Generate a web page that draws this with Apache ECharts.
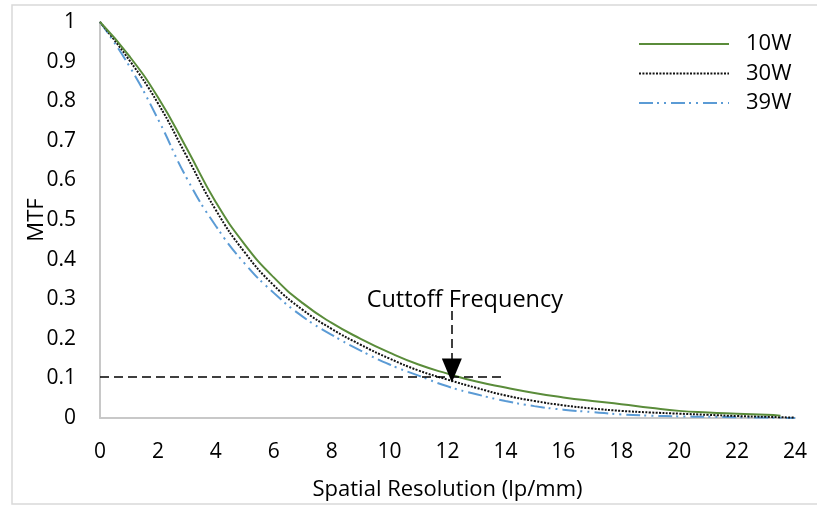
<!DOCTYPE html>
<html>
<head>
<meta charset="utf-8">
<title>MTF vs Spatial Resolution</title>
<script src="https://cdn.jsdelivr.net/npm/echarts@6/dist/echarts.min.js"></script>
<style>
  html, body { margin: 0; padding: 0; background: #fff; }
  #chart { width: 817px; height: 506px; }
</style>
</head>
<body>
<div id="chart"></div>
<script>
// MTF curves, x = spatial resolution (lp/mm)
const seriesNames = ['10W', '30W', '39W'];

const x10W = [0, 1, 2, 3, 4, 5, 6, 7, 8, 9, 10, 11, 12, 13, 14, 15, 16, 17, 18, 19, 20, 21, 22, 23, 23.5];
const y10W = [1.0, 0.915, 0.81, 0.68, 0.545, 0.438, 0.355, 0.29, 0.24, 0.2, 0.165, 0.135, 0.112, 0.092, 0.077, 0.063, 0.052, 0.043, 0.035, 0.026, 0.018, 0.014, 0.011, 0.008, 0.006];

const x30W = [0, 1, 2, 3, 4, 5, 6, 7, 8, 9, 10, 11, 12, 13, 14, 15, 16, 17, 18, 19, 20, 21, 22, 23, 24];
const y30W = [1.0, 0.905, 0.795, 0.66, 0.525, 0.418, 0.335, 0.273, 0.225, 0.185, 0.15, 0.12, 0.097, 0.076, 0.057, 0.043, 0.032, 0.024, 0.018, 0.014, 0.011, 0.008, 0.005, 0.003, 0.001];

const x39W = [0, 1, 2, 3, 4, 5, 6, 7, 8, 9, 10, 11, 12, 13, 14, 15, 16, 17, 18, 19, 20, 21, 22, 23, 24];
const y39W = [1.0, 0.89, 0.755, 0.605, 0.485, 0.39, 0.316, 0.256, 0.21, 0.17, 0.135, 0.107, 0.08, 0.06, 0.043, 0.03, 0.021, 0.015, 0.009, 0.006, 0.004, 0.003, 0.002, 0.001, 0.0];

const xTicks = [0, 2, 4, 6, 8, 10, 12, 14, 16, 18, 20, 22, 24];
const yTicks = [0, 0.1, 0.2, 0.3, 0.4, 0.5, 0.6, 0.7, 0.8, 0.9, 1];

// cutoff marker: dashed threshold line and the arrow pointing at the crossing
const cutoffLevel = 0.105;
const cutoffLineEnd = 14;
const cutoffFreq = 12.15;
const arrowTop = 0.27;
const arrowTip = 0.12;
const cutoffText = 'Cuttoff Frequency';

const FONT = '"Open Sans", "Liberation Sans", Arial, sans-serif';
const pair = (xs, ys) => xs.map((x, i) => [x, ys[i]]);

const chart = echarts.init(document.getElementById('chart'), null, { renderer: 'canvas' });

const option = {
  animation: false,
  backgroundColor: '#fff',
  textStyle: { fontFamily: FONT, color: '#000' },
  grid: { left: 100, right: 22, top: 22, bottom: 88, containLabel: false },
  legend: {
    orient: 'vertical',
    left: 638,
    top: 33,
    padding: 0,
    itemWidth: 90,
    itemHeight: 14,
    itemGap: 7.5,
    data: seriesNames,
    itemStyle: { opacity: 0 },
    textStyle: { fontFamily: FONT, fontSize: 22, color: '#000', padding: [0, 0, 0, 12] }
  },
  xAxis: {
    type: 'value',
    min: 0,
    max: 24,
    interval: 2,
    name: 'Spatial Resolution (lp/mm)',
    nameLocation: 'middle',
    nameGap: 61,
    nameMoveOverlap: false,
    nameTextStyle: { fontFamily: FONT, fontSize: 22, color: '#000' },
    axisLine: { show: true, onZero: false, lineStyle: { color: '#c8c8c8', width: 2 } },
    axisTick: { show: false },
    splitLine: { show: false },
    axisLabel: {
      fontFamily: FONT, fontSize: 21, color: '#000', margin: 24,
      formatter: v => xTicks.includes(v) ? String(v) : ''
    }
  },
  yAxis: {
    type: 'value',
    min: 0,
    max: 1,
    interval: 0.1,
    name: 'MTF',
    nameLocation: 'middle',
    nameGap: 52,
    nameMoveOverlap: false,
    nameTextStyle: { fontFamily: FONT, fontSize: 22, color: '#000' },
    axisLine: { show: true, lineStyle: { color: '#c8c8c8', width: 2 } },
    axisTick: { show: false },
    splitLine: { show: false },
    axisLabel: {
      fontFamily: FONT, fontSize: 21, color: '#000', margin: 24,
      formatter: v => {
        const r = Math.round(v * 10) / 10;
        return yTicks.includes(r) ? String(r) : '';
      }
    }
  },
  series: [
    {
      name: '10W', type: 'line', smooth: 0.5, showSymbol: false, symbol: 'none',
      data: pair(x10W, y10W),
      lineStyle: { color: '#5a8c3a', width: 2 },
      itemStyle: { color: '#5a8c3a' },
      z: 3
    },
    {
      name: '30W', type: 'line', smooth: 0.5, showSymbol: false, symbol: 'none',
      data: pair(x30W, y30W),
      lineStyle: { color: '#111', width: 2, type: [2, 1.4] },
      itemStyle: { color: '#111' },
      z: 2
    },
    {
      name: '39W', type: 'line', smooth: 0.5, showSymbol: false, symbol: 'none',
      data: pair(x39W, y39W),
      lineStyle: { color: '#5b9bd5', width: 2, type: [14, 4, 2, 5, 2, 5] },
      itemStyle: { color: '#5b9bd5' },
      z: 1,
      markLine: {
        silent: true,
        animation: false,
        label: { show: false },
        data: [
          [
            { coord: [0, cutoffLevel], symbol: 'none' },
            { coord: [cutoffLineEnd, cutoffLevel], symbol: 'none' }
          ],
          [
            { coord: [cutoffFreq, arrowTop], symbol: 'none' },
            { coord: [cutoffFreq, arrowTip], symbol: 'triangle', symbolSize: [20, 24] }
          ]
        ],
        lineStyle: { color: '#000', width: 1.5, type: [9, 5], opacity: 1 },
        itemStyle: { color: '#000' }
      }
    }
  ]
};

chart.setOption(option);

// place the annotation text above the arrow, through the chart's own scales
const anchor = chart.convertToPixel({ gridIndex: 0 }, [cutoffFreq, arrowTop]);
chart.setOption({
  graphic: [
    {
      type: 'rect', silent: true, z: -1,
      shape: { x: 12, y: 5, width: 815, height: 499 },
      style: { fill: 'none', stroke: '#d9d9d9', lineWidth: 1.5 }
    },
    {
      type: 'text', silent: true, z: 10,
      x: anchor[0] + 13, y: anchor[1] + 1,
      style: {
        text: cutoffText, fontFamily: FONT, fontSize: 23.5, fill: '#000',
        align: 'center', verticalAlign: 'bottom'
      }
    }
  ]
});
</script>
</body>
</html>
